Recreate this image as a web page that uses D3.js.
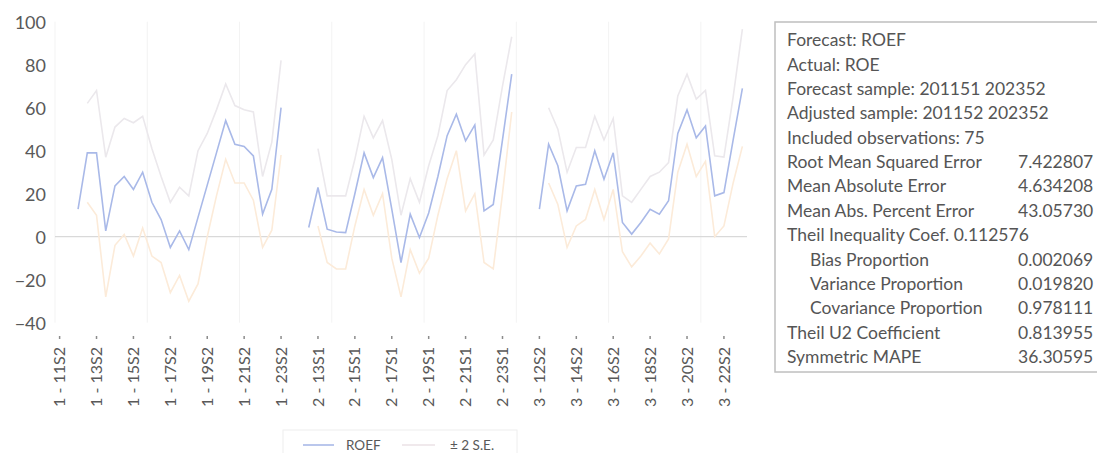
<!DOCTYPE html>
<html>
<head>
<meta charset="utf-8">
<script src="https://cdn.jsdelivr.net/npm/d3@7"></script>
<style>
  body { margin: 0; background: #fff; }
  svg { display: block; font-family: Lato, "Open Sans", sans-serif; }
</style>
</head>
<body>
<div class="chart"></div>
<script>
// cross sections and half-year periods shown on the category axis
var groups = ["1", "2", "3"];
var periods = ["11S2", "12S1", "12S2", "13S1", "13S2", "14S1", "14S2", "15S1", "15S2",
  "16S1", "16S2", "17S1", "17S2", "18S1", "18S2", "19S1", "19S2", "20S1", "20S2",
  "21S1", "21S2", "22S1", "22S2", "23S1", "23S2"];

var tickLabels = ["1 - 11S2", "1 - 13S2", "1 - 15S2", "1 - 17S2", "1 - 19S2", "1 - 21S2", "1 - 23S2",
  "2 - 13S1", "2 - 15S1", "2 - 17S1", "2 - 19S1", "2 - 21S1", "2 - 23S1",
  "3 - 12S2", "3 - 14S2", "3 - 16S2", "3 - 18S2", "3 - 20S2", "3 - 22S2"];

var yTicks = [100, 80, 60, 40, 20, 0, -20, -40];

// forecast ROEF, one block of 25 periods per cross section
var roef = [
  null, null, 12.8, 39, 39, 2.7, 23.6, 28, 22, 30, 16, 8, -5, 2.7, -6, 9, 24, 39, 54, 43, 42, 37.6, 10.5, 22, 60,
  null, null, 4.3, 22.9, 3.5, 2.2, 1.9, 20, 39, 27.5, 36.8, 12.8, -12, 10.5, -0.4, 11, 28, 47, 57, 44.6, 52, 12, 15, 45, 75.6,
  null, null, 12.8, 43, 33, 12, 23.6, 24.4, 40, 26.7, 39, 6.6, 1.2, 6.6, 12.8, 10.5, 16.7, 48, 59, 46, 51.5, 19, 20.5, 45, 69
];

// +2 S.E.
var upper = [
  null, null, null, 62, 68, 37, 51, 55, 53, 56, 41, 28, 16, 23, 19, 40, 48, 59, 71, 61, 59, 58, 28, 44, 82,
  null, null, null, 41, 19, 19, 19, 36, 56, 46, 54, 36, 10, 27, 16, 33, 47, 68, 73, 80, 85, 38, 45, 70, 93,
  null, null, null, 60, 50, 30, 41.5, 41.5, 56, 45, 55, 19, 16, 22, 28, 30, 34.5, 65.5, 75.6, 64, 68, 37.6, 37, 65, 96.5
];

// -2 S.E.
var lower = [
  null, null, null, 16, 10, -28, -4, 1, -9, 4, -9, -12, -26, -18, -30, -22, 0, 19, 36, 25, 25, 17, -5, 3, 38,
  null, null, null, 5, -12, -15, -15, 5, 22, 10, 20, -10, -28, -6, -17, -10, 10, 27, 40, 12, 20, -12, -15, 20, 58,
  null, null, null, 25, 15, -5, 5, 8, 22, 8, 22, -7, -14, -9, -3, -8, -1, 30, 43, 28, 35, 0, 5, 25, 42
];

var statLabels = ["Forecast: ROEF", "Actual: ROE", "Forecast sample: 201151 202352",
  "Adjusted sample: 201152 202352", "Included observations: 75",
  "Root Mean Squared Error", "Mean Absolute Error", "Mean Abs. Percent Error",
  "Theil Inequality Coef. 0.112576", "Bias Proportion", "Variance Proportion",
  "Covariance Proportion", "Theil U2 Coefficient", "Symmetric MAPE"];
var statValues = ["", "", "", "", "", "7.422807", "4.634208", "43.05730", "",
  "0.002069", "0.019820", "0.978111", "0.813955", "36.30595"];
var statIndent = [0, 0, 0, 0, 0, 0, 0, 0, 0, 1, 1, 1, 0, 0];

var svgWidth = 1097;
var svgHeight = 453;

var svg = d3.select(".chart")
  .append("svg")
  .attr("width", svgWidth)
  .attr("height", svgHeight);

// build the 75 category names
var categories = [];
groups.forEach(function(g) {
  periods.forEach(function(p) { categories.push(g + " - " + p); });
});

var xScale = d3.scalePoint()
  .domain(categories)
  .range([55, 747])
  .padding(0.5);
var step = xScale.step();

var yScale = d3.scaleLinear()
  .domain([-40, 100])
  .range([322.7, 21.7]);

// faint vertical gridlines every 10 categories
var gridCats = categories.filter(function(c, i) { return i % 10 === 0; });
svg.append("g")
  .selectAll("line")
  .data(gridCats)
  .enter()
  .append("line")
  .attr("x1", d => xScale(d) - step / 2)
  .attr("x2", d => xScale(d) - step / 2)
  .attr("y1", yScale(100))
  .attr("y2", yScale(-40))
  .attr("stroke", "#f3f3f3")
  .attr("stroke-width", 1);

// y axis labels
var leftAxis = d3.axisLeft(yScale).tickValues(yTicks).tickSize(0).tickPadding(0);
var yAxis = svg.append("g")
  .attr("transform", "translate(46,0)")
  .call(leftAxis);
yAxis.select(".domain").remove();
yAxis.selectAll("text")
  .attr("font-family", "Lato")
  .attr("font-size", 18)
  .attr("fill", "#595959")
  .attr("dy", "0.35em");

// zero line (category axis)
svg.append("line")
  .attr("x1", 55)
  .attr("x2", 747)
  .attr("y1", yScale(0))
  .attr("y2", yScale(0))
  .attr("stroke", "#d9d9d9")
  .attr("stroke-width", 1.2);

var rows = categories.map(function(c, i) {
  return { cat: c, roef: roef[i], upper: upper[i], lower: lower[i] };
});

function seriesLine(key) {
  return d3.line()
    .defined(d => d[key] != null)
    .x(d => xScale(d.cat))
    .y(d => yScale(d[key]));
}

svg.append("path")
  .datum(rows)
  .attr("fill", "none")
  .attr("stroke", "#fcebd9")
  .attr("stroke-width", 1.6)
  .attr("d", seriesLine("lower"));

svg.append("path")
  .datum(rows)
  .attr("fill", "none")
  .attr("stroke", "#ebe8ec")
  .attr("stroke-width", 1.6)
  .attr("d", seriesLine("upper"));

svg.append("path")
  .datum(rows)
  .attr("fill", "none")
  .attr("stroke", "#a9b9e8")
  .attr("stroke-width", 1.6)
  .attr("d", seriesLine("roef"));

// category labels, rotated
var labelGroup = svg.append("g");
tickLabels.forEach(function(t) {
  var x = xScale(t);
  labelGroup.append("line")
    .attr("x1", x).attr("x2", x)
    .attr("y1", 336).attr("y2", 339)
    .attr("stroke", "#8c8c8c")
    .attr("stroke-width", 1.5);
  labelGroup.append("text")
    .attr("transform", "translate(" + x + ",347) rotate(-90)")
    .attr("text-anchor", "end")
    .attr("dy", "0.35em")
    .attr("font-size", 16)
    .attr("fill", "#595959")
    .text(t);
});

// legend
var legend = svg.append("g");
legend.append("rect")
  .attr("x", 283).attr("y", 430)
  .attr("width", 234).attr("height", 30)
  .attr("fill", "none")
  .attr("stroke", "#eeeeee");
legend.append("line")
  .attr("x1", 303).attr("x2", 334).attr("y1", 445).attr("y2", 445)
  .attr("stroke", "#a9b9e8").attr("stroke-width", 1.6);
legend.append("text")
  .attr("x", 346).attr("y", 445).attr("dy", "0.35em")
  .attr("font-size", 13.5).attr("fill", "#595959")
  .text("ROEF");
legend.append("line")
  .attr("x1", 402).attr("x2", 435).attr("y1", 445).attr("y2", 445)
  .attr("stroke", "#ebe2e6").attr("stroke-width", 1.6);
legend.append("text")
  .attr("x", 450).attr("y", 445).attr("dy", "0.35em")
  .attr("font-size", 13.5).attr("fill", "#595959")
  .text("\u00b1 2 S.E.");

// statistics box
var box = svg.append("g");
box.append("rect")
  .attr("x", 775).attr("y", 22)
  .attr("width", 340).attr("height", 350)
  .attr("fill", "#fff")
  .attr("stroke", "#bfbfbf")
  .attr("stroke-width", 1.5);

var rowY = d3.scaleLinear().domain([0, 13]).range([40, 357]);
statLabels.forEach(function(s, i) {
  box.append("text")
    .attr("x", statIndent[i] ? 810 : 787)
    .attr("y", rowY(i))
    .attr("dy", "0.35em")
    .attr("font-size", 17.5)
    .attr("fill", "#555")
    .text(s);
  if (statValues[i]) {
    box.append("text")
      .attr("x", 1018)
      .attr("y", rowY(i))
      .attr("dy", "0.35em")
      .attr("font-size", 17.5)
      .attr("fill", "#555")
      .text(statValues[i]);
  }
});
</script>
</body>
</html>
